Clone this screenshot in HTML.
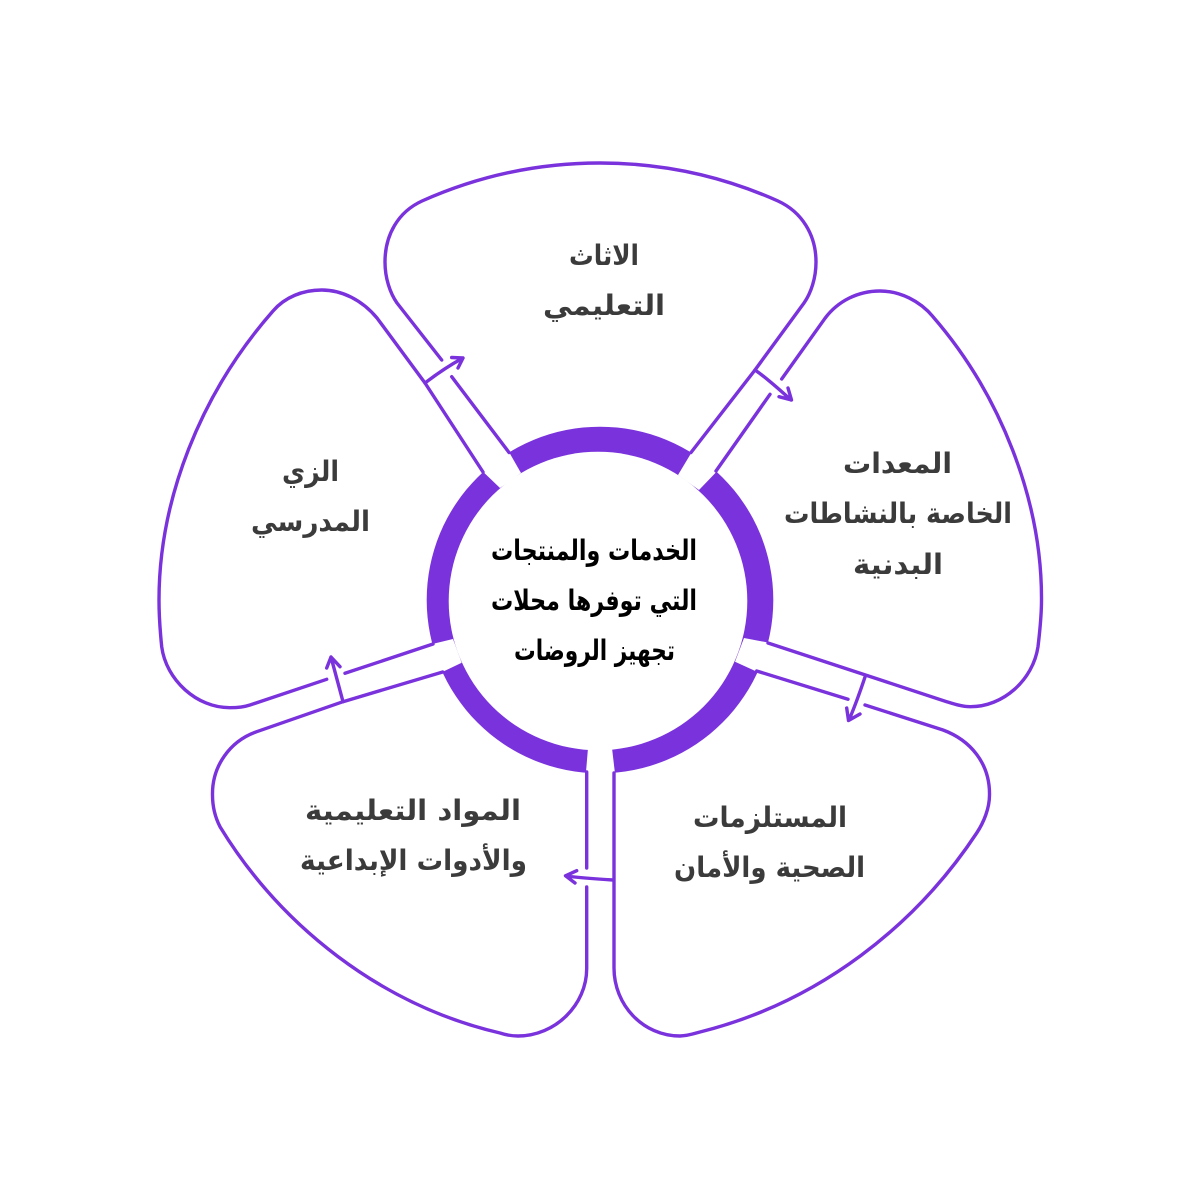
<!DOCTYPE html>
<html lang="ar">
<head>
<meta charset="utf-8">
<title>الخدمات والمنتجات</title>
<style>
html,body{margin:0;padding:0;background:#fff}
svg{display:block}
text{font-family:"DejaVu Sans","Liberation Sans",sans-serif;font-weight:bold;font-size:28px;text-anchor:middle;direction:rtl;fill:#3b3b3b}
.c{fill:#000}
.p{fill:none;stroke:#7a32dc;stroke-width:3.4;stroke-linecap:round;stroke-linejoin:round}
</style>
</head>
<body>
<svg xmlns="http://www.w3.org/2000/svg" width="1200" height="1200" viewBox="0 0 1200 1200">
<rect width="1200" height="1200" fill="#fff"/>
<circle cx="600" cy="600" r="173.3" fill="#7a32dc"/>
<circle cx="598" cy="601" r="149.3" fill="#fff"/>
<g fill="#fff">
<polygon points="521,473 500,488 476,465 505,445"/>
<polygon points="678,475 699,490 724,464 696,445"/>
<polygon points="744,638 735,661.7 764,675 776,644"/>
<polygon points="453,639 461.7,662.7 436,675 424,646"/>
<polygon points="588,748 612,748 615.5,778 585.5,778"/>
</g>
<g>
<path class="p" d="M691 452.5L755 370L804 303C811 293 816 278 816 262C816 235 802 212 778 201C722 176 662 163 600 163C538 163 478 176 422 201C398 212 385 235 385 262C385 278 390 293 397 303L441.7 360M451.7 376.7L509 452.5"/>
<path class="p" d="M425 383C438 373 450 365 463 358M451.7 357.5L463 358L458 368"/>
<path class="p" d="M716 471L770 394.3M781.7 379L825 318.3C838 301 858 291 880 291C900 291 920 301 933 316.7C1000 394 1042 500 1041.5 600C1041.5 615 1040 630 1038 646.7C1033 680 1003 707 970 706.7C962 706.7 954 704 946.7 701.7L768 643"/>
<path class="p" d="M755 370C768 379 780 390 791 400M788 388L791.5 400L779 396.7"/>
<path class="p" d="M756.7 671L848 699.3M865 705L943 730C970 740 990 763 989.5 795C989.5 808 984 822 976.7 833C916 925 820 1002 700 1032C693 1034 687 1036 680 1036C643 1036 614 1005 614 968L614 773"/>
<path class="p" d="M865 677C860 692 855 706 849 720M846.7 708L848.5 720.5L860 714"/>
<path class="p" d="M442.7 672L343 701.7L256.7 731.7C230 741 212 766 212.5 795C212.5 806 215 817 220 826.7C280 925 380 1005 500 1033C506 1035 512 1036 518 1036C555 1036 587 1005 586.7 968L586.7 887M586.7 868L586.7 772"/>
<path class="p" d="M613 880C597 879 581 878 566 876M576.7 870.7L565.5 875.8L575 883"/>
<path class="p" d="M483 472L425 383L377 318C362 300 342 290 321.7 290C303 290 285 297 273 311C200 394 159 500 159 600C159 615 160 630 161.7 646.7C166 680 197 708 230 707.7C238 707.7 244 707 250 705L326.7 679.3M345 673.3L433 644"/>
<path class="p" d="M343 701.7C339 687 335 672 331 657M326.7 668L331 657L340 666.7"/>
</g>
<g>
<text x="604" y="265" textLength="70" lengthAdjust="spacingAndGlyphs">الاثاث</text>
<text x="604" y="315" textLength="122" lengthAdjust="spacingAndGlyphs">التعليمي</text>
<text x="897.5" y="473" textLength="109" lengthAdjust="spacingAndGlyphs">المعدات</text>
<text x="898" y="523" textLength="228" lengthAdjust="spacingAndGlyphs">الخاصة بالنشاطات</text>
<text x="898" y="574" textLength="90" lengthAdjust="spacingAndGlyphs">البدنية</text>
<text x="770" y="827" textLength="154" lengthAdjust="spacingAndGlyphs">المستلزمات</text>
<text x="769.5" y="877" textLength="191" lengthAdjust="spacingAndGlyphs">الصحية والأمان</text>
<text x="413" y="820" textLength="216" lengthAdjust="spacingAndGlyphs">المواد التعليمية</text>
<text x="413.5" y="870" textLength="227" lengthAdjust="spacingAndGlyphs">والأدوات الإبداعية</text>
<text x="310.5" y="481" textLength="57" lengthAdjust="spacingAndGlyphs">الزي</text>
<text x="310.5" y="531" textLength="119" lengthAdjust="spacingAndGlyphs">المدرسي</text>
<text class="c" x="594" y="560" textLength="206" lengthAdjust="spacingAndGlyphs">الخدمات والمنتجات</text>
<text class="c" x="594" y="610" textLength="206" lengthAdjust="spacingAndGlyphs">التي توفرها محلات</text>
<text class="c" x="594.5" y="660" textLength="161" lengthAdjust="spacingAndGlyphs">تجهيز الروضات</text>
</g>
</svg>
</body>
</html>
